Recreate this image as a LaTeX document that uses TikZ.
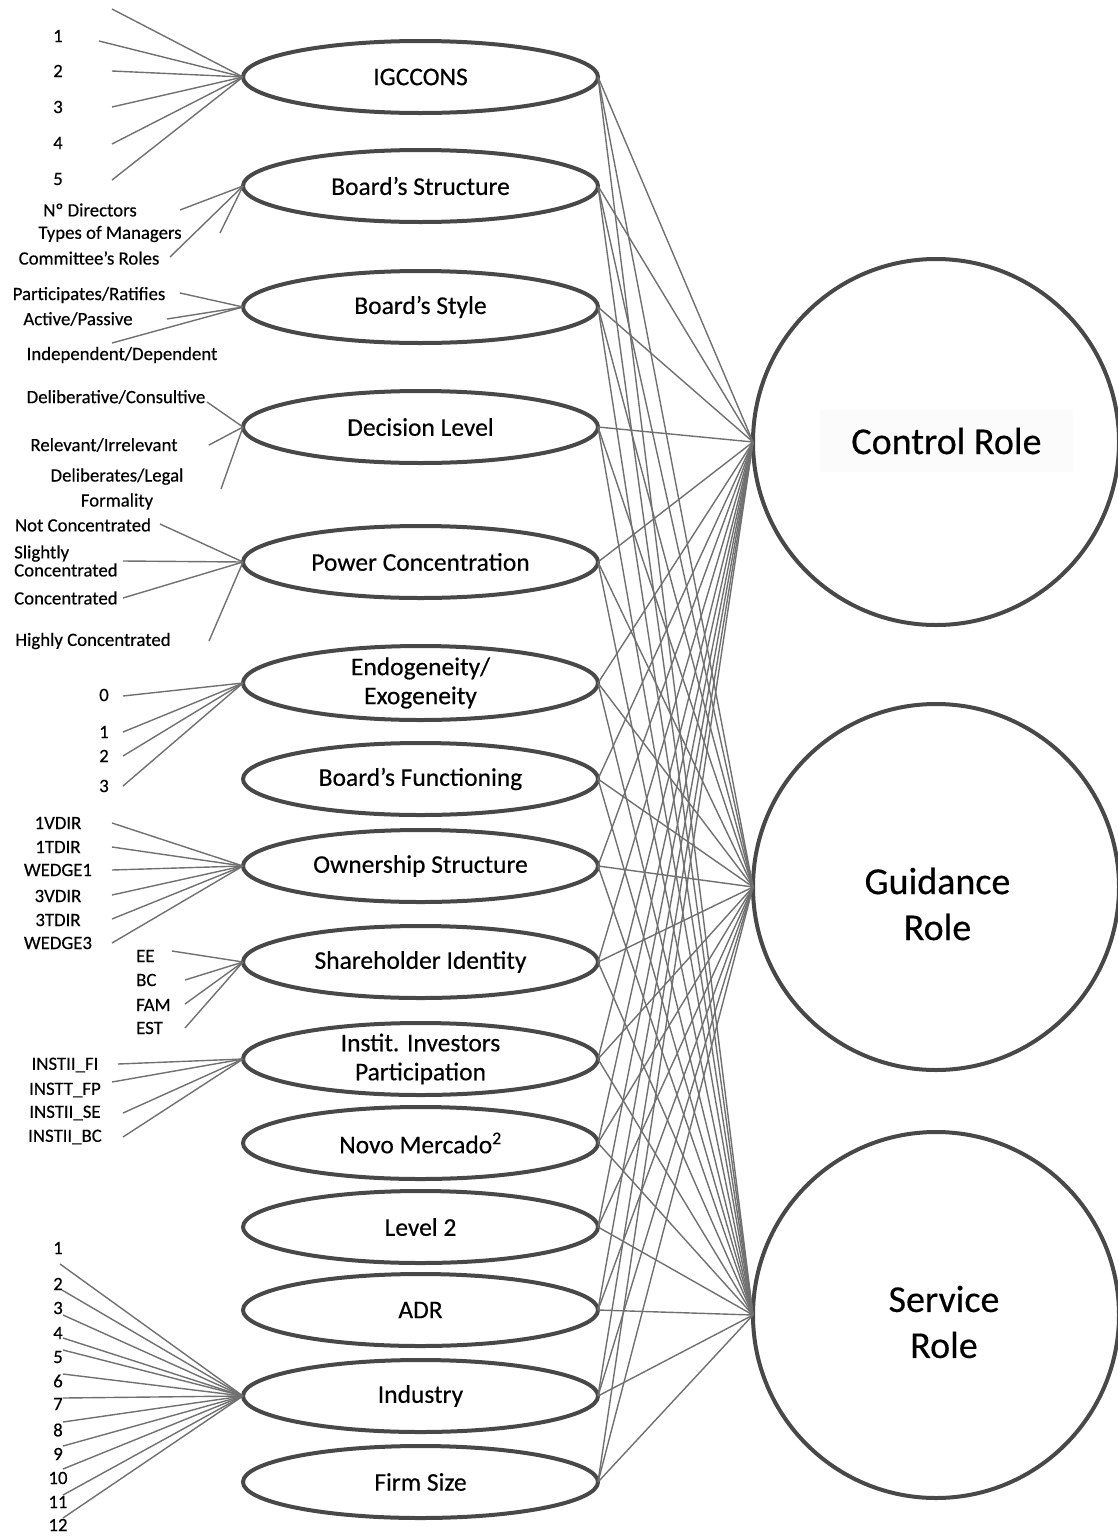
\documentclass[tikz,border=0pt]{standalone}
\usepackage{fontspec}
\setmainfont{Carlito}[FakeBold=0.35]
\usetikzlibrary{shapes.geometric}
\definecolor{ellcol}{RGB}{72,72,72}
\definecolor{linecol}{RGB}{112,112,112}
\definecolor{boxcol}{RGB}{251,251,251}
\begin{document}
\begin{tikzpicture}[x=1pt,y=-1pt,
  var/.style={ellipse, draw=ellcol, line width=4pt, minimum width=355pt, minimum height=72pt,
    inner sep=0pt, outer sep=0pt, font=\fontsize{25.5}{29}\selectfont, align=center},
  role/.style={circle, draw=ellcol, line width=4pt, minimum size=366pt, inner sep=0pt, outer sep=0pt},
  rolelab/.style={font=\fontsize{38}{46}\selectfont, align=center, inner sep=0pt},
  lab/.style={font=\fontsize{18.8}{18}\selectfont, inner sep=0pt, align=center},
  conn/.style={draw=linecol, line width=1.4pt},
]
\useasboundingbox (0,0) rectangle (1117,1537);

% ---------- variable ellipses ----------
\node[var] (e1)  at (420.5,77)   {IGCCONS};
\node[var] (e2)  at (420.5,186)  {Board’s Structure};
\node[var] (e3)  at (420.5,307)  {Board’s Style};
\node[var] (e4)  at (420.5,427)  {Decision Level};
\node[var] (e5)  at (420.5,562)  {Power Concentration};
\node[var, minimum height=74pt] (e6)  at (420.5,683)  {Endogeneity/\\Exogeneity};
\node[var] (e7)  at (420.5,779)  {Board’s Functioning};
\node[var] (e8)  at (420.5,866)  {Ownership Structure};
\node[var] (e9)  at (420.5,962)  {Shareholder Identity};
\node[var] (e10) at (420.5,1059) {Instit. Investors\\Participation};
\node[var] (e11) at (420.5,1143) {Novo Mercado\textsuperscript{2}};
\node[var] (e12) at (420.5,1227) {Level 2};
\node[var] (e13) at (420.5,1310) {ADR};
\node[var] (e14) at (420.5,1396) {Industry};
\node[var] (e15) at (420.5,1482) {Firm Size};

% ---------- role circles ----------
\node[role] (c1) at (936,442)  {};
\node[role] (c2) at (936,887)  {};
\node[role] (c3) at (936,1315) {};
\node[rolelab, fill=boxcol, minimum width=253pt, minimum height=62pt] (t1) at (946.5,441) {Control Role};
\node[rolelab] (t2) at (937.5,904)  {Guidance\\Role};
\node[rolelab] (t3) at (944,1322) {Service\\Role};

% ---------- connectors ellipses -> roles ----------
\foreach \i in {1,...,15}{
  \foreach \c in {c1,c2,c3}{
    \draw[conn] (e\i.east) -- (\c.west);
  }
}

% ---------- IGCCONS ----------
\coordinate (a0p) at (112,9);
\draw[conn] (a0p) -- (e1.west);
\node[lab] (a1) at (58,36)  {1}; \coordinate (a1p) at (99,41);
\node[lab] (a2) at (58,71)  {2}; \coordinate (a2p) at (112,71);
\node[lab] (a3) at (58,107) {3}; \coordinate (a3p) at (112,107);
\node[lab] (a4) at (58,143) {4}; \coordinate (a4p) at (112,144);
\node[lab] (a5) at (58,179) {5}; \coordinate (a5p) at (112,180);
\foreach \k in {1,...,5} \draw[conn] (a\k p) -- (e1.west);

% ---------- Board's Structure ----------
\node[lab] (b1) at (90,210)  {Nº Directors};      \coordinate (b1p) at (180,210);
\node[lab] (b2) at (110,234) {Types of Managers}; \coordinate (b2p) at (220,233);
\node[lab] (b3) at (89,258)  {Committee’s Roles}; \coordinate (b3p) at (170,257);
\foreach \k in {1,2,3} \draw[conn] (b\k p) -- (e2.west);

% ---------- Board's Style ----------
\node[lab] (s1) at (89,295)  {Participates/Ratifies};  \coordinate (s1p) at (180,293);
\node[lab] (s2) at (78,319)  {Active/Passive};         \coordinate (s2p) at (167,319);
\node[lab] (s3) at (122,355) {Independent/Dependent};  \coordinate (s3p) at (112,343);
\foreach \k in {1,2,3} \draw[conn] (s\k p) -- (e3.west);

% ---------- Decision Level ----------
\node[lab] (d1) at (116,397) {Deliberative/Consultive}; \coordinate (d1p) at (207,402);
\node[lab] (d2) at (104,445) {Relevant/Irrelevant};     \coordinate (d2p) at (209,445);
\node[lab, font=\fontsize{18.8}{25}\selectfont] (d3) at (117,489) {Deliberates/Legal\\Formality}; \coordinate (d3p) at (221,489);
\foreach \k in {1,2,3} \draw[conn] (d\k p) -- (e4.west);

% ---------- Power Concentration ----------
\node[lab] (q1) at (83,525)  {Not Concentrated};   \coordinate (q1p) at (160,524);
\node[lab, align=left, anchor=west] (q2) at (14,561) {Slightly\\Concentrated}; \coordinate (q2p) at (123,561);
\node[lab, anchor=west] (q3) at (14,598) {Concentrated}; \coordinate (q3p) at (123,598);
\node[lab] (q4) at (93,641)  {Highly Concentrated}; \coordinate (q4p) at (209,641);
\foreach \k in {1,...,4} \draw[conn] (q\k p) -- (e5.west);

% ---------- Endogeneity ----------
\node[lab] (g0) at (104,695) {0}; \coordinate (g0p) at (123,696);
\node[lab] (g1) at (104,732) {1}; \coordinate (g1p) at (123,732);
\node[lab] (g2) at (104,756) {2}; \coordinate (g2p) at (123,756);
\node[lab] (g3) at (104,786) {3}; \coordinate (g3p) at (123,786);
\foreach \k in {0,...,3} \draw[conn] (g\k p) -- (e6.west);

% ---------- Ownership Structure ----------
\node[lab] (o1) at (58,823) {1VDIR};  \coordinate (o1p) at (112,823);
\node[lab] (o2) at (58,847) {1TDIR};  \coordinate (o2p) at (112,847);
\node[lab] (o3) at (58,870) {WEDGE1}; \coordinate (o3p) at (112,870);
\node[lab] (o4) at (58,896) {3VDIR};  \coordinate (o4p) at (112,895);
\node[lab] (o5) at (58,920) {3TDIR};  \coordinate (o5p) at (112,919);
\node[lab] (o6) at (58,943) {WEDGE3}; \coordinate (o6p) at (112,943);
\foreach \k in {1,...,6} \draw[conn] (o\k p) -- (e8.west);

% ---------- Shareholder Identity ----------
\node[lab, anchor=west] (h1) at (136,956)  {EE};  \coordinate (h1p) at (172,951);
\node[lab, anchor=west] (h2) at (136,980)  {BC};  \coordinate (h2p) at (185,980);
\node[lab, anchor=west] (h3) at (136,1005) {FAM}; \coordinate (h3p) at (185,1004);
\node[lab, anchor=west] (h4) at (136,1028) {EST}; \coordinate (h4p) at (185,1028);
\foreach \k in {1,...,4} \draw[conn] (h\k p) -- (e9.west);

% ---------- Institutional investors ----------
\node[lab] (n1) at (65,1065) {INSTII\_FI}; \coordinate (n1p) at (118,1064);
\node[lab] (n2) at (65,1090) {INSTT\_FP}; \coordinate (n2p) at (112,1082);
\node[lab] (n3) at (65,1113) {INSTII\_SE}; \coordinate (n3p) at (123,1113);
\node[lab] (n4) at (65,1137) {INSTII\_BC}; \coordinate (n4p) at (123,1137);
\foreach \k in {1,...,4} \draw[conn] (n\k p) -- (e10.west);

% ---------- Industry ----------
\node[lab] (i1)  at (58,1248) {1};  \coordinate (i1p)  at (60,1264);
\node[lab] (i2)  at (58,1284) {2};  \coordinate (i2p)  at (62,1290);
\node[lab] (i3)  at (58,1308) {3};  \coordinate (i3p)  at (63,1315);
\node[lab] (i4)  at (58,1333) {4};  \coordinate (i4p)  at (63,1338);
\node[lab] (i5)  at (58,1357) {5};  \coordinate (i5p)  at (63,1350);
\node[lab] (i6)  at (58,1381) {6};  \coordinate (i6p)  at (63,1374);
\node[lab] (i7)  at (58,1404) {7};  \coordinate (i7p)  at (63,1398);
\node[lab] (i8)  at (58,1430) {8};  \coordinate (i8p)  at (63,1422);
\node[lab] (i9)  at (58,1454) {9};  \coordinate (i9p)  at (63,1446);
\node[lab] (i10) at (58,1478) {10}; \coordinate (i10p) at (63,1469);
\node[lab] (i11) at (58,1502) {11}; \coordinate (i11p) at (63,1495);
\node[lab] (i12) at (58,1525) {12}; \coordinate (i12p) at (63,1518);
\foreach \k in {1,...,12} \draw[conn] (i\k p) -- (e14.west);
\end{tikzpicture}
\end{document}
